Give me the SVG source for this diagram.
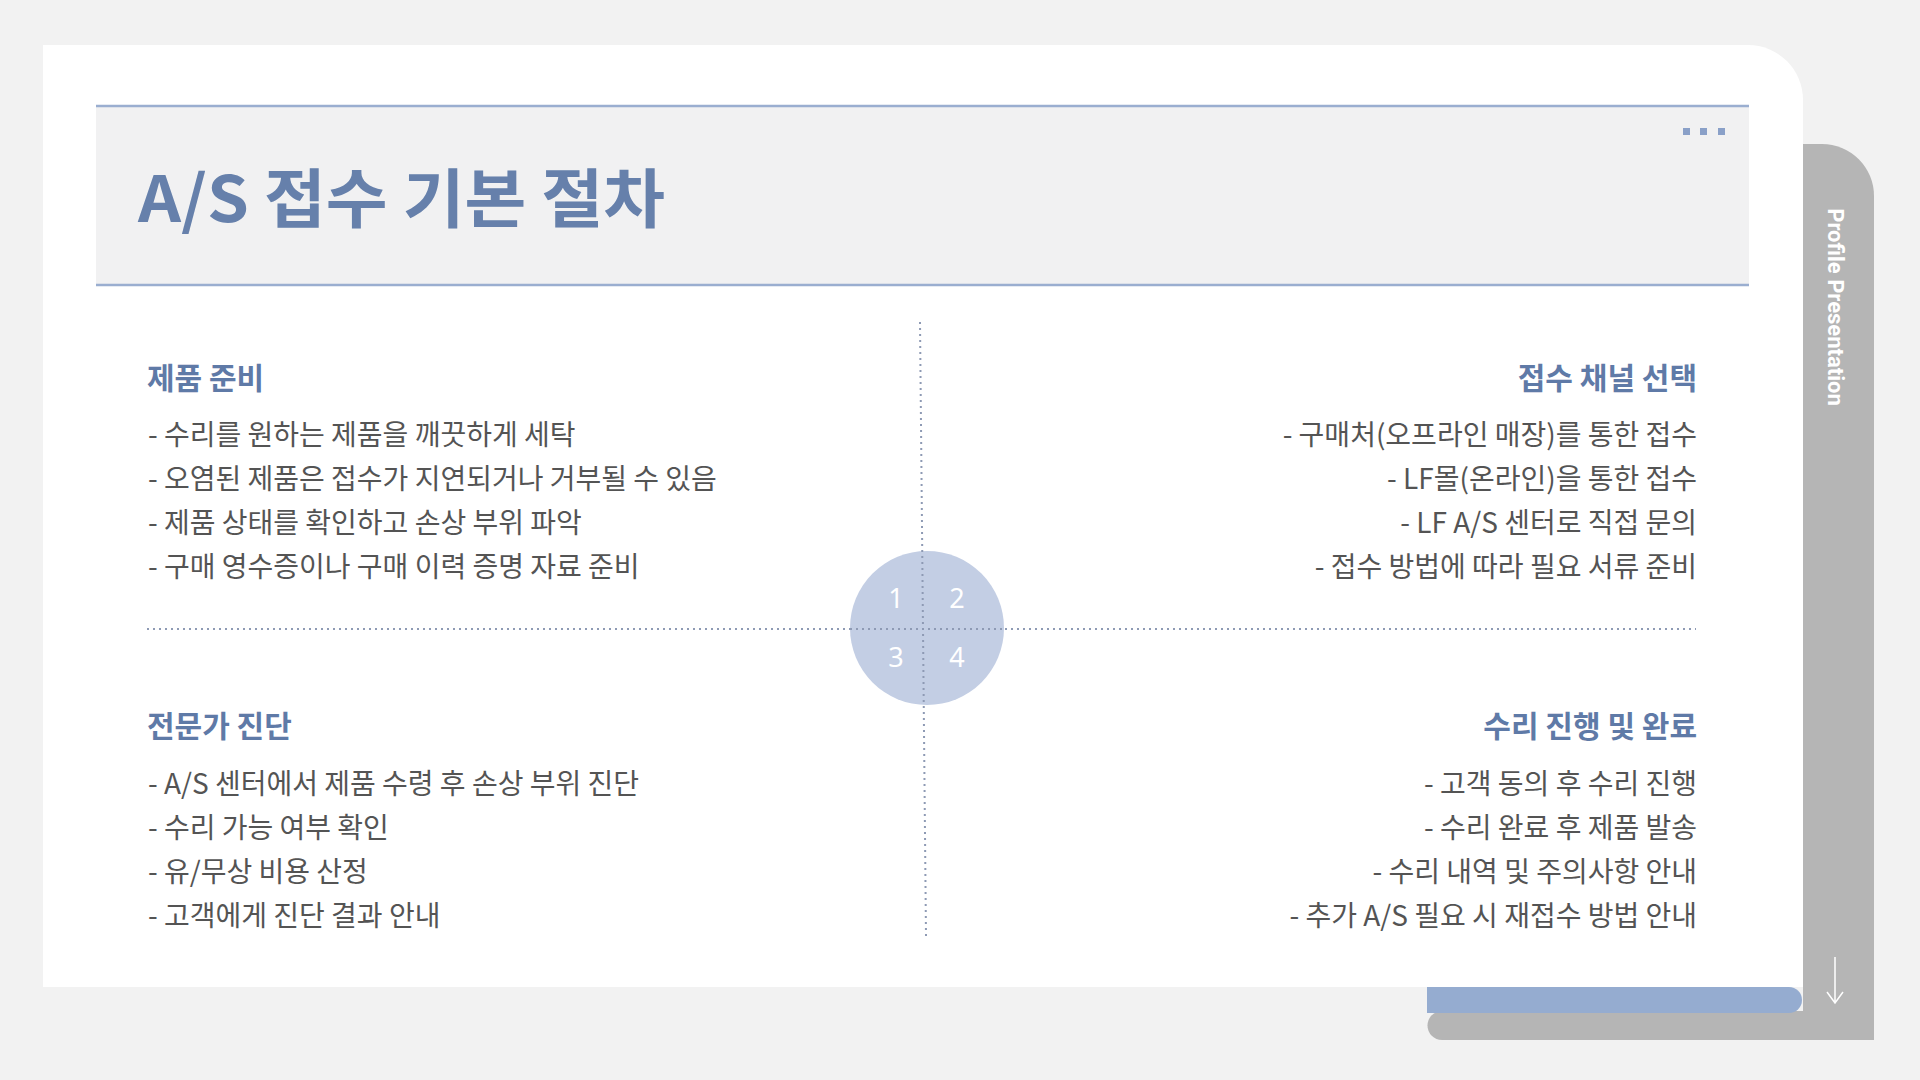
<svg xmlns="http://www.w3.org/2000/svg" width="1920" height="1080" viewBox="0 0 1920 1080">
<style>
.body{font-family:"Noto Sans CJK KR","Noto Sans",sans-serif;font-size:28px;fill:#545454;}
.head{font-family:"Noto Sans CJK KR","Noto Sans",sans-serif;font-size:30px;font-weight:700;fill:#5f7aa7;}
.r{text-anchor:end;}
.num{font-family:"Noto Sans","Noto Sans CJK KR",sans-serif;font-size:27px;fill:#ffffff;text-anchor:middle;dominant-baseline:central;}
.dot{stroke:#8e9ab4;stroke-width:2;stroke-dasharray:2 4;fill:none;}
</style>
<rect x="0" y="0" width="1920" height="1080" fill="#f2f2f2"/>
<g id="side-tab">
<path d="M1803,144 H1822 A52,52 0 0 1 1874,196 V1040 H1803 Z" fill="#b5b5b5"/>
<path d="M1442,1011 H1874 V1040 H1442 A14.5,14.5 0 0 1 1442,1011 Z" fill="#b5b5b5"/>
<path d="M1427,987 H1789 A13,13 0 0 1 1789,1013 H1427 Z" fill="#95acd0"/>
<text transform="translate(1835,307) rotate(90)" font-family="Roboto,'Liberation Sans',sans-serif" font-size="22" font-weight="700" fill="#ffffff" text-anchor="middle" dominant-baseline="central">Profile Presentation</text>
<path d="M1835,957 V1003 M1827,992 L1835,1003 L1843,992" stroke="#ffffff" stroke-width="1.5" fill="none"/>
</g>
<g id="card">
<path d="M43,45 H1748 A55,55 0 0 1 1803,100 V987 H43 Z" fill="#ffffff"/>
</g>
<g id="header">
<rect x="96" y="106" width="1653" height="179" fill="#f1f1f2"/>
<line x1="96" y1="106" x2="1749" y2="106" stroke="#9aaed0" stroke-width="2.5"/>
<line x1="96" y1="285" x2="1749" y2="285" stroke="#9aaed0" stroke-width="2.5"/>
<rect x="1683" y="128" width="7" height="7" fill="#8aa0c8"/>
<rect x="1700" y="128" width="7" height="7" fill="#8aa0c8"/>
<rect x="1718" y="128" width="7" height="7" fill="#8aa0c8"/>
<text x="138" y="222" font-family="'Noto Sans CJK KR','Noto Sans',sans-serif" font-size="64" font-weight="700" fill="#6680ab" textLength="527" lengthAdjust="spacingAndGlyphs">A/S 접수 기본 절차</text>
</g>
<g id="connectors">
<line class="dot" x1="147" y1="629" x2="1696" y2="629"/>
</g>
<g id="center-circle">
<circle cx="927" cy="628" r="77" fill="#c3cee4"/>
<line class="dot" x1="920" y1="322" x2="926" y2="936"/>
<line class="dot" x1="850" y1="629" x2="1004" y2="629"/>
<text class="num" x="896" y="597">1</text>
<text class="num" x="957" y="597">2</text>
<text class="num" x="896" y="656">3</text>
<text class="num" x="957" y="656">4</text>
</g>
<g id="q1">
<text class="head" x="147" y="389">제품 준비</text>
<text class="body" x="148" y="445">- 수리를 원하는 제품을 깨끗하게 세탁</text>
<text class="body" x="148" y="489">- 오염된 제품은 접수가 지연되거나 거부될 수 있음</text>
<text class="body" x="148" y="533">- 제품 상태를 확인하고 손상 부위 파악</text>
<text class="body" x="148" y="577">- 구매 영수증이나 구매 이력 증명 자료 준비</text>
</g>
<g id="q2">
<text class="head r" x="1697" y="389">접수 채널 선택</text>
<text class="body r" x="1697" y="445">- 구매처(오프라인 매장)를 통한 접수</text>
<text class="body r" x="1697" y="489">- LF몰(온라인)을 통한 접수</text>
<text class="body r" x="1697" y="533">- LF A/S 센터로 직접 문의</text>
<text class="body r" x="1697" y="577">- 접수 방법에 따라 필요 서류 준비</text>
</g>
<g id="q3">
<text class="head" x="147" y="737">전문가 진단</text>
<text class="body" x="148" y="794">- A/S 센터에서 제품 수령 후 손상 부위 진단</text>
<text class="body" x="148" y="838">- 수리 가능 여부 확인</text>
<text class="body" x="148" y="882">- 유/무상 비용 산정</text>
<text class="body" x="148" y="926">- 고객에게 진단 결과 안내</text>
</g>
<g id="q4">
<text class="head r" x="1697" y="737">수리 진행 및 완료</text>
<text class="body r" x="1697" y="794">- 고객 동의 후 수리 진행</text>
<text class="body r" x="1697" y="838">- 수리 완료 후 제품 발송</text>
<text class="body r" x="1697" y="882">- 수리 내역 및 주의사항 안내</text>
<text class="body r" x="1697" y="926">- 추가 A/S 필요 시 재접수 방법 안내</text>
</g>
</svg>
